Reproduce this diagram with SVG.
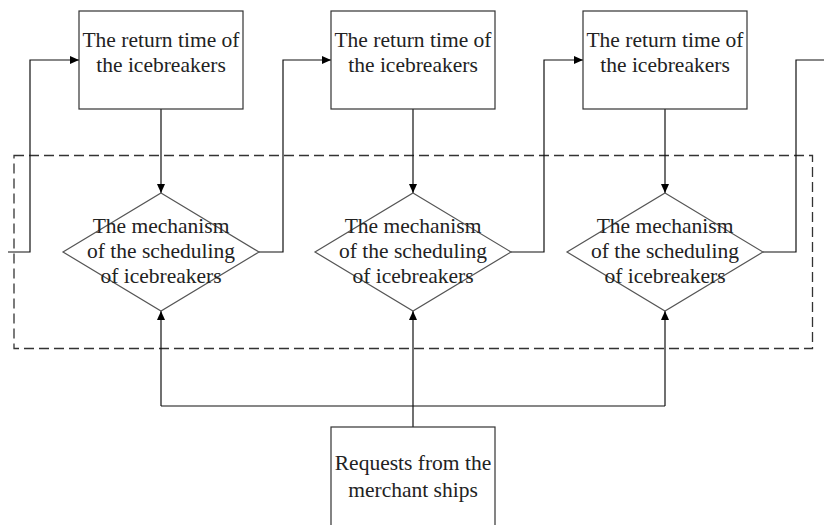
<svg xmlns="http://www.w3.org/2000/svg" width="824" height="525" viewBox="0 0 824 525">
<defs>
<marker id="ah" markerWidth="9" markerHeight="8" refX="9" refY="4" orient="auto" markerUnits="userSpaceOnUse">
<path d="M0,0 L9,4 L0,8 Z" fill="#000"/>
</marker>
</defs>
<style>
.box{fill:#fff;stroke:#333;stroke-width:1.2}
.dia{fill:none;stroke:#555;stroke-width:1.2}
.ln{fill:none;stroke:#111;stroke-width:1.2}
.dash{fill:none;stroke:#333;stroke-width:1.3;stroke-dasharray:10 5}
.t{font-family:'Liberation Serif',serif;font-size:21.5px;fill:#222;text-anchor:middle}
</style>
<rect id="boundary" class="dash" x="14" y="155.5" width="798.5" height="193"/>
<g id="connectors">
<path class="ln" d="M8,252 H30 V60 H79" marker-end="url(#ah)"/>
<path class="ln" d="M259,252 H283 V60 H331" marker-end="url(#ah)"/>
<path class="ln" d="M511,252 H544 V60 H583" marker-end="url(#ah)"/>
<path class="ln" d="M763,252 H796 V60 H824"/>
<path class="ln" d="M161,109 V193" marker-end="url(#ah)"/>
<path class="ln" d="M413,109 V193" marker-end="url(#ah)"/>
<path class="ln" d="M665,109 V193" marker-end="url(#ah)"/>
<path class="ln" d="M161,406 H665"/>
<path class="ln" d="M161,406 V311" marker-end="url(#ah)"/>
<path class="ln" d="M665,406 V311" marker-end="url(#ah)"/>
<path class="ln" d="M413,427 V311" marker-end="url(#ah)"/>
</g>
<g id="return1" class="t" font-family="Liberation Serif, serif">
<rect class="box" x="79" y="11" width="164" height="98"/>
<text x="161" y="47">The return time of</text>
<text x="161" y="72">the icebreakers</text>
</g>
<g id="return2" class="t" font-family="Liberation Serif, serif">
<rect class="box" x="331" y="11" width="164" height="98"/>
<text x="413" y="47">The return time of</text>
<text x="413" y="72">the icebreakers</text>
</g>
<g id="return3" class="t" font-family="Liberation Serif, serif">
<rect class="box" x="583" y="11" width="164" height="98"/>
<text x="665" y="47">The return time of</text>
<text x="665" y="72">the icebreakers</text>
</g>
<g id="mech1" class="t" font-family="Liberation Serif, serif">
<polygon class="dia" points="161,193 259,252 161,311 63,252"/>
<text x="161" y="233">The mechanism</text>
<text x="161" y="258">of the scheduling</text>
<text x="161" y="283">of icebreakers</text>
</g>
<g id="mech2" class="t" font-family="Liberation Serif, serif">
<polygon class="dia" points="413,193 511,252 413,311 315,252"/>
<text x="413" y="233">The mechanism</text>
<text x="413" y="258">of the scheduling</text>
<text x="413" y="283">of icebreakers</text>
</g>
<g id="mech3" class="t" font-family="Liberation Serif, serif">
<polygon class="dia" points="665,193 763,252 665,311 567,252"/>
<text x="665" y="233">The mechanism</text>
<text x="665" y="258">of the scheduling</text>
<text x="665" y="283">of icebreakers</text>
</g>
<g id="requests" class="t" font-family="Liberation Serif, serif">
<rect class="box" x="331" y="427" width="164" height="110"/>
<text x="413" y="470">Requests from the</text>
<text x="413" y="497">merchant ships</text>
</g>
</svg>
